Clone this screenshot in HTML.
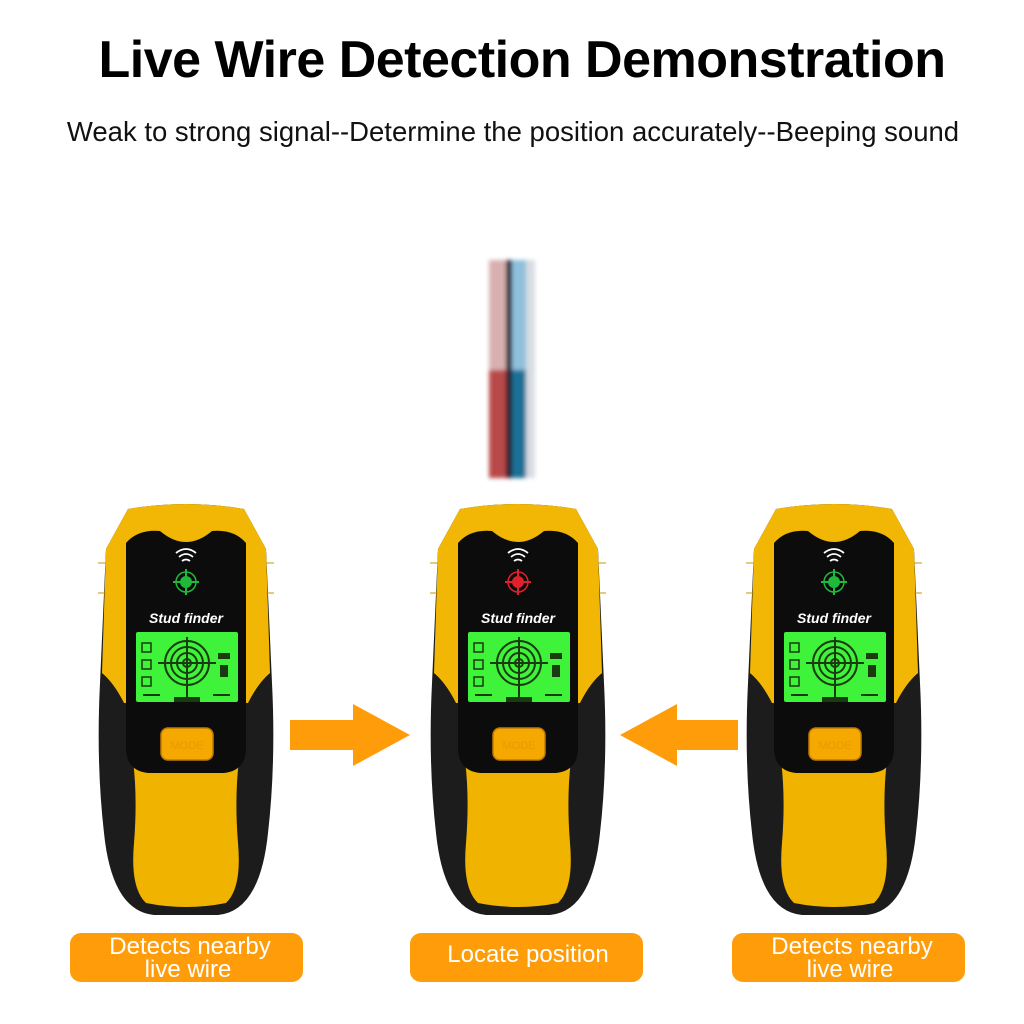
<!DOCTYPE html>
<html><head><meta charset="utf-8"><style>
html,body{margin:0;padding:0;background:#fff;}
body{width:1024px;height:1024px;overflow:hidden;position:relative;font-family:"Liberation Sans",sans-serif;}
.t{position:absolute;left:0;width:1044px;text-align:center;font-weight:bold;font-size:52px;top:30px;color:#000;letter-spacing:-0.5px}
.s{position:absolute;left:0;width:1026px;text-align:center;font-size:27.5px;top:116px;color:#111}
</style></head><body>
<div class="t">Live Wire Detection Demonstration</div>
<div class="s">Weak to strong signal--Determine the position accurately--Beeping sound</div>
<svg width="1024" height="1024" style="position:absolute;left:0;top:0">
<defs>
<filter id="bl"><feGaussianBlur stdDeviation="2"/></filter>
<g id="dev">
 <path d="M30,6 Q88,-4 146,6 L168,46 L174,180 Q178,260 170,330 Q162,408 120,412 L56,412 Q14,408 6,330 Q-2,260 2,180 L8,46 Z" fill="#1c1c1c"/>
 <path d="M30,6 Q88,-4 146,6 L168,46 L172,170 Q160,180 150,200 L26,200 Q16,180 4,170 L8,46 Z" fill="#f2b705"/>
 <path d="M34,250 L142,250 Q136,290 140,340 Q144,385 128,400 Q88,408 48,400 Q32,385 36,340 Q40,290 34,250 Z" fill="#f0b400"/>
 <path d="M28,40 Q40,26 62,28 Q88,50 114,28 Q136,26 148,40 L148,248 Q146,268 126,270 L50,270 Q30,268 28,248 Z" fill="#0c0c0c"/>
 <rect x="38" y="129" width="102" height="70" rx="2" fill="#3ff23a"/>
 <circle cx="89" cy="160" r="22" fill="none" stroke="#1a3a10" stroke-width="2"/>
 <circle cx="89" cy="160" r="16" fill="none" stroke="#1a3a10" stroke-width="2"/>
 <circle cx="89" cy="160" r="10" fill="none" stroke="#1a3a10" stroke-width="2"/>
 <circle cx="89" cy="160" r="4" fill="none" stroke="#1a3a10" stroke-width="2"/>
 <path d="M89,134V196M60,160H118M45,192H62M132,192H115" stroke="#1a3a10" stroke-width="2"/>
 <rect x="44" y="140" width="9" height="9" fill="none" stroke="#1a3a10" stroke-width="1.5"/>
 <rect x="44" y="157" width="9" height="9" fill="none" stroke="#1a3a10" stroke-width="1.5"/>
 <rect x="44" y="174" width="9" height="9" fill="none" stroke="#1a3a10" stroke-width="1.5"/>
 <rect x="120" y="150" width="12" height="6" fill="#1a3a10"/>
 <rect x="122" y="162" width="8" height="12" fill="#1a3a10"/>
 <rect x="76" y="194" width="26" height="5" fill="#1a3a10"/>
 <rect x="63" y="225" width="52" height="32" rx="7" fill="#f5a800" stroke="#c07a00" stroke-width="1.5"/>
 <path d="M78,50 Q88,42 98,50M81,54 Q88,48 95,54M84,58 Q88,55 92,58" fill="none" stroke="#fff" stroke-width="1.8"/>
 <path d="M0,60 L8,60 M0,90 L8,90 M168,60 L176,60 M168,90 L176,90" stroke="#c99400" stroke-width="1"/>
</g>
</defs>
<g transform="translate(98,503)"><use href="#dev"/>
 <circle cx="88" cy="79" r="6" fill="#1fb83a"/><path d="M88,66V92M75,79H101" stroke="#1fb83a" stroke-width="2"/><circle cx="88" cy="79" r="10" fill="none" stroke="#1fb83a" stroke-width="1.5"/>
 <text x="88" y="120" text-anchor="middle" font-family="Liberation Sans" font-style="italic" font-weight="bold" font-size="14" fill="#fff">Stud finder</text>
 <text x="89" y="246" text-anchor="middle" font-family="Liberation Sans" font-size="11" fill="#e89a00">MODE</text></g>
<g transform="translate(430,503)"><use href="#dev"/>
 <circle cx="88" cy="79" r="6" fill="#e0202a"/><path d="M88,66V92M75,79H101" stroke="#e0202a" stroke-width="2"/><circle cx="88" cy="79" r="10" fill="none" stroke="#e0202a" stroke-width="1.5"/>
 <text x="88" y="120" text-anchor="middle" font-family="Liberation Sans" font-style="italic" font-weight="bold" font-size="14" fill="#fff">Stud finder</text>
 <text x="89" y="246" text-anchor="middle" font-family="Liberation Sans" font-size="11" fill="#e89a00">MODE</text></g>
<g transform="translate(746,503)"><use href="#dev"/>
 <circle cx="88" cy="79" r="6" fill="#1fb83a"/><path d="M88,66V92M75,79H101" stroke="#1fb83a" stroke-width="2"/><circle cx="88" cy="79" r="10" fill="none" stroke="#1fb83a" stroke-width="1.5"/>
 <text x="88" y="120" text-anchor="middle" font-family="Liberation Sans" font-style="italic" font-weight="bold" font-size="14" fill="#fff">Stud finder</text>
 <text x="89" y="246" text-anchor="middle" font-family="Liberation Sans" font-size="11" fill="#e89a00">MODE</text></g>
<g filter="url(#bl)">
 <rect x="489" y="260" width="17" height="218" fill="#d8b0b0"/>
 <rect x="489" y="370" width="17" height="108" fill="#b84a4a"/>
 <rect x="506" y="260" width="6" height="218" fill="#1a1a2a"/>
 <rect x="512" y="260" width="14" height="218" fill="#8fc0dc"/>
 <rect x="512" y="370" width="14" height="108" fill="#1f6f96"/>
 <rect x="526" y="260" width="9" height="218" fill="#d8dde2"/>
</g>
<path d="M290,720H353V704L410,735L353,766V750H290Z" fill="#ff9c0a"/>
<path d="M738,720H677V704L620,735L677,766V750H738Z" fill="#ff9c0a"/>
<rect x="70" y="933" width="233" height="49" rx="11" fill="#ff9c0a"/>
<rect x="410" y="933" width="233" height="49" rx="11" fill="#ff9c0a"/>
<rect x="732" y="933" width="233" height="49" rx="11" fill="#ff9c0a"/>
<g font-family="Liberation Sans" font-size="24" fill="#fff" text-anchor="middle">
<text x="190" y="954">Detects nearby</text><text x="188" y="977">live wire</text>
<text x="528" y="962">Locate position</text>
<text x="852" y="954">Detects nearby</text><text x="850" y="977">live wire</text>
</g>
</svg>
</body></html>
